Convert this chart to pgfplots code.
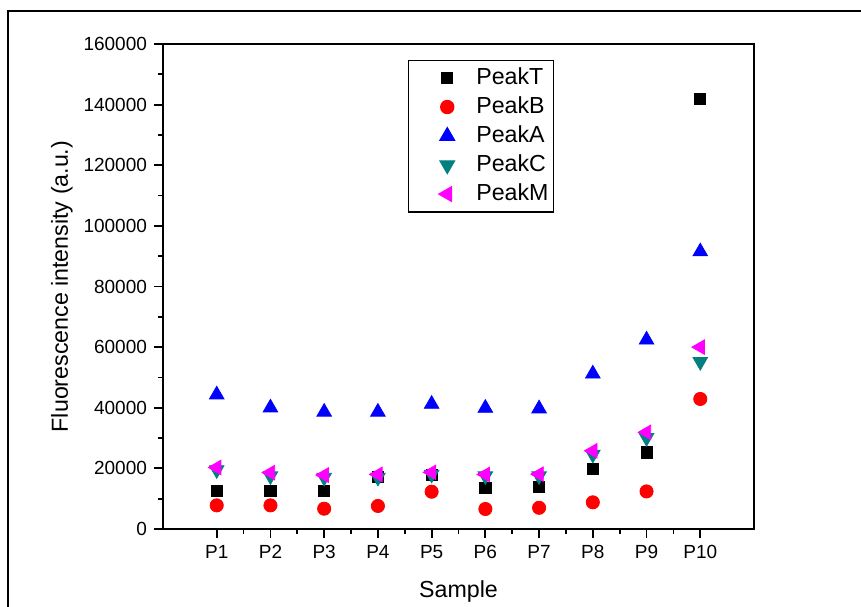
\documentclass[border=0pt]{standalone}
\usepackage{pgfplots}
\pgfplotsset{compat=1.18}
\usepackage{fontspec}
\setmainfont{Liberation Sans}
\definecolor{peakC}{RGB}{0,128,128}
\definecolor{peakM}{RGB}{255,0,255}
\begin{document}
\begin{tikzpicture}
\begin{axis}[
  at={(0,0)}, anchor=south west,
  scale only axis,
  width=295.5pt, height=242.5pt,
  xmin=0, xmax=11, ymin=0, ymax=160000,
  xtick={1,...,10},
  xticklabels={P1,P2,P3,P4,P5,P6,P7,P8,P9,P10},
  minor x tick num=1,
  ytick={0,20000,...,160000},
  minor y tick num=1,
  xtick pos=bottom, ytick pos=left,
  tick align=outside,
  major tick length=4.5pt, minor tick length=2.5pt,
  every tick/.style={black, line width=0.9pt},
  axis line style={line width=1pt},
  scaled y ticks=false,
  yticklabel style={/pgf/number format/fixed, /pgf/number format/precision=0,
    /pgf/number format/1000 sep={}, /pgf/number format/assume math mode=true},
  tick label style={font=\fontsize{9.5}{11}\selectfont},
  label style={font=\fontsize{11.6}{13}\selectfont},
  xlabel={Sample},
  ylabel={Fluorescence intensity (a.u.)},
  xlabel style={yshift=-4pt},
  ylabel style={yshift=-1.5pt},
  only marks,
  legend image code/.code={%
    \path[draw=none, fill=none] (0pt,0pt) (31.5pt,0pt);
    \draw[#1, only marks] plot coordinates {(19pt,0pt)};},
  legend style={at={(0.414,0.968)}, anchor=north west, draw=black, line width=0.6pt,
    font=\fontsize{11.6}{13}\selectfont, row sep=0.6pt, inner xsep=0.5pt, inner ysep=2pt},
  legend cell align=left,
]
\addplot[mark=square*, mark size=2.8pt, mark options={draw=black, fill=black}]
  coordinates {(1,12500) (2,12500) (3,12500) (4,17100) (5,17800) (6,13500) (7,13900) (8,19700) (9,25300) (10,142000)};
\addlegendentry{PeakT}
\addplot[mark=*, mark size=3.3pt, mark options={draw=red, fill=red}]
  coordinates {(1,7800) (2,7800) (3,6700) (4,7600) (5,12300) (6,6600) (7,7000) (8,8800) (9,12400) (10,42900)};
\addlegendentry{PeakB}
\addplot[mark=triangle*, mark size=4.2pt, mark options={draw=blue, fill=blue}]
  coordinates {(1,44300) (2,40000) (3,38600) (4,38600) (5,41200) (6,39900) (7,39700) (8,51200) (9,62400) (10,91500)};
\addlegendentry{PeakA}
\addplot[mark=triangle*, mark size=4.2pt, mark options={draw=peakC, fill=peakC, rotate=180}]
  coordinates {(1,19500) (2,17500) (3,17000) (4,17000) (5,18000) (6,17500) (7,17500) (8,24600) (9,30100) (10,55200)};
\addlegendentry{PeakC}
\addplot[mark=triangle*, mark size=4.2pt, mark options={draw=peakM, fill=peakM, rotate=90}]
  coordinates {(1,20300) (2,18600) (3,17800) (4,18000) (5,18700) (6,18000) (7,18100) (8,25800) (9,31900) (10,60000)};
\addlegendentry{PeakM}
\end{axis}
\draw[line width=1pt] (-77.5pt,-40pt) -- (-77.5pt,259pt) -- (352pt,259pt);
\pgfresetboundingbox
\path[use as bounding box] (-81.5pt,-38.5pt) rectangle (349pt,264.5pt);
\end{tikzpicture}
\end{document}
